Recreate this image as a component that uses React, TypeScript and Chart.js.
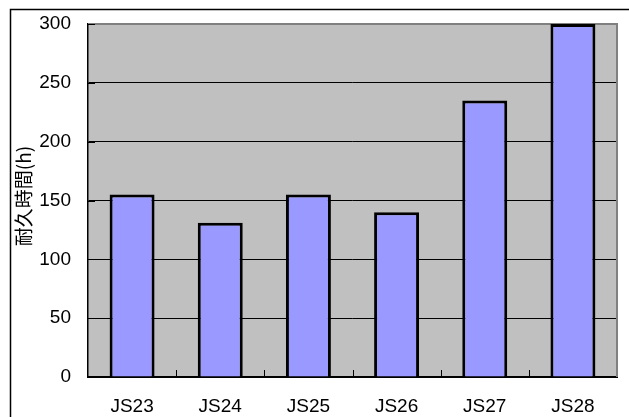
import React, { useEffect, useRef } from "react";
import { Chart, registerables } from "chart.js";

Chart.register(...registerables);

const categories = ["JS23", "JS24", "JS25", "JS26", "JS27", "JS28"];
const durability = [155, 131, 155, 140, 235, 300];
const yTicks = [0, 50, 100, 150, 200, 250, 300];
const yTitle = "耐久時間(h)";

const framePlugin = {
  id: "frame",
  beforeDraw(chart: any) {
    const { ctx, chartArea: a, width, height } = chart;
    ctx.save();
    ctx.fillStyle = "#ffffff";
    ctx.fillRect(0, 0, width, height);
    ctx.strokeStyle = "#000000";
    ctx.lineWidth = 1.5;
    ctx.beginPath();
    ctx.moveTo(10.5, height + 5);
    ctx.lineTo(10.5, 9.5);
    ctx.lineTo(width + 5, 9.5);
    ctx.stroke();
    ctx.fillStyle = "#c0c0c0";
    ctx.fillRect(a.left, a.top, a.right - a.left, a.bottom - a.top);
    ctx.restore();
  },
  beforeDatasetsDraw(chart: any) {
    const { ctx, chartArea: a } = chart;
    ctx.save();
    ctx.strokeStyle = "#808080";
    ctx.lineWidth = 2;
    ctx.beginPath();
    ctx.moveTo(a.left, a.top);
    ctx.lineTo(a.right, a.top);
    ctx.lineTo(a.right, a.bottom);
    ctx.stroke();
    ctx.strokeStyle = "#000000";
    ctx.lineWidth = 1;
    const ys = chart.scales.y;
    ctx.beginPath();
    for (const v of yTicks) {
      const y = Math.round(ys.getPixelForValue(v)) + 0.5;
      ctx.moveTo(a.left, y);
      ctx.lineTo(a.left + 7, y);
    }
    const n = categories.length;
    const w = (a.right - a.left) / n;
    for (let i = 1; i < n; i++) {
      const x = Math.round(a.left + i * w) + 0.5;
      ctx.moveTo(x, a.bottom);
      ctx.lineTo(x, a.bottom - 7);
    }
    ctx.stroke();
    ctx.restore();
  },
  afterDraw(chart: any) {
    const { ctx } = chart;
    ctx.save();
    ctx.translate(24, 196);
    ctx.rotate(-Math.PI / 2);
    ctx.fillStyle = "#000000";
    ctx.font = '19px "Noto Sans CJK JP"';
    ctx.textAlign = "center";
    ctx.textBaseline = "middle";
    ctx.fillText(yTitle, 0, 0);
    ctx.restore();
  },
};

export default function App() {
  const ref = useRef<HTMLCanvasElement>(null);
  useEffect(() => {
    const chart = new Chart(ref.current!, {
      type: "bar",
      data: {
        labels: categories,
        datasets: [
          {
            data: durability,
            backgroundColor: "#9999ff",
            borderColor: "#000000",
            borderWidth: 3,
            barPercentage: 0.51,
            categoryPercentage: 1,
          },
        ],
      },
      options: {
        animation: false,
        responsive: false,
        devicePixelRatio: 1,
        layout: { padding: { top: 24, right: 12, left: 0, bottom: 0 } },
        plugins: { legend: { display: false }, tooltip: { enabled: false } },
        scales: {
          x: {
            grid: { display: false, drawTicks: false },
            border: { display: true, color: "#000000", width: 2 },
            ticks: {
              color: "#000000",
              padding: 18,
              font: { family: '"Liberation Sans", Arial', size: 19 },
              maxRotation: 0,
            },
            afterFit(s: any) {
              s.height = 40;
              s.paddingLeft = 0;
              s.paddingRight = 0;
            },
          },
          y: {
            min: 0,
            max: 300,
            grid: {
              drawTicks: false,
              color: (c: any) => (c.tick && c.tick.value === 300 ? "rgba(0,0,0,0)" : "#000000"),
              lineWidth: 1,
            },
            border: { display: true, color: "#000000", width: 1.5 },
            ticks: {
              stepSize: 50,
              color: "#000000",
              padding: 17,
              font: { family: '"Liberation Sans", Arial', size: 19 },
            },
            afterFit(s: any) {
              s.width = 88;
              s.paddingTop = 0;
              s.paddingBottom = 0;
            },
          },
        },
      },
      plugins: [framePlugin],
    });
    return () => chart.destroy();
  }, []);
  return (
    <div style={{ position: "absolute", left: 0, top: 0, width: 629, height: 417 }}>
      <canvas ref={ref} width={629} height={417} />
    </div>
  );
}
